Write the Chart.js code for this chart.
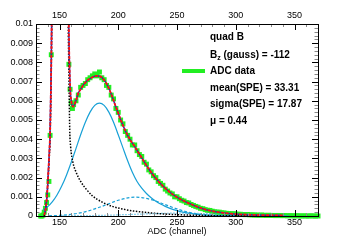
<!DOCTYPE html>
<html>
<head>
<meta charset="utf-8">
<script src="https://cdn.jsdelivr.net/npm/chart.js@4.4.0/dist/chart.umd.min.js"></script>
<style>
  html, body { margin: 0; padding: 0; background: #fff; }
  canvas { display: block; }
</style>
</head>
<body>
<canvas id="chart" width="354" height="241"></canvas>
<script>
const xMin = 130;
const xMax = 370;
const yMax = 0.01;

// ADC data (green markers)
const dataX = [134,135,136,137,138,139,140,141,142,143,144,146,150,154,157,158,159,160,161,162,
  164,166,168,170,172,174,176,178,180,182,184,186,188,190,192,194,196,198,200,
  202,204,206,208,210,212,214,216,218,220,222,224,226,228,230,232,234,236,238,240,
  242,244,246,248,250,252,254,256,258,260,262,264,266,268,270,272,274,276,278,280,
  282,284,286,288,290,292,294,296,298,300,302,304,306,308,310,312,314,316,318,320,
  322,324,326,328,330,332,334,336,338,340,342,344,346,348,350,352,354,356,358,360,
  362,364,366,368,370];
const dataY = [0,0,0.00005,0.0002,0.0004,0.0007,0.0011,0.0018,0.0042,0.0084,0.016,0.034,0.055,0.036,0.013,0.0079,0.0066,0.0059,0.0056,0.0058,
  0.0060,0.0063,0.0067,0.0068,0.0069,0.0071,0.0072,0.0073,0.0074,0.0073,0.0075,0.0072,0.0071,0.0068,0.0067,0.0063,0.0061,0.0056,0.0054,
  0.0050,0.0048,0.0044,0.0042,0.0040,0.0037,0.0037,0.0034,0.0032,0.0031,0.0028,0.0027,0.0024,0.0023,0.0021,0.0020,0.0018,0.0017,0.0016,0.0014,
  0.0013,0.0012,0.00115,0.0010,0.0010,0.0009,0.00082,0.00078,0.0007,0.00068,0.0006,0.00055,0.0005,0.00046,0.0004,0.00038,0.00033,0.0003,0.00029,0.00025,
  0.00022,0.0002,0.0002,0.00017,0.00016,0.00014,0.00013,0.00011,0.00012,0.0001,0.00009,0.00009,0.00008,0.00007,0.00008,0.00006,0.00006,0.00005,0.00005,0.00004,
  0.00005,0.00004,0.00003,0.00004,0.00003,0.00003,0.00002,0.00003,0.00002,0.00002,0.00002,0.00001,0.00002,0.00001,0.00001,0.00001,0.00001,0,0.00001,0,
  0,0.00001,0,0,0];

// total fit (red)
const fitX = [137,138,139,140,141,142,143,144,146,150,154,156,157,158,159,160,161.5,164,166,168,170,172,174,176,178,180,
  182,184,186,188,190,192,194,196,198,200,202,206,210,214,218,222,226,230,234,238,
  242,246,250,254,258,262,266,270,274,278,282,286,290,296,302,310,320,330,340];
const fitY = [0.00005,0.0003,0.0008,0.0017,0.0029,0.0044,0.008,0.015,0.03,0.05,0.032,0.022,0.015,0.0095,0.0068,0.0060,0.0057,0.0060,0.0064,0.0066,0.0068,0.00695,0.00707,0.00716,0.00723,0.00728,
  0.0073,0.00728,0.00722,0.00708,0.0069,0.00665,0.00635,0.00602,0.00568,0.00535,0.00502,0.00445,0.00398,0.00362,0.00322,0.00283,0.00245,0.00211,0.00182,0.00156,
  0.00134,0.00114,0.00098,0.00084,0.00072,0.00061,0.00051,0.00042,0.00034,0.00028,0.00023,0.00019,0.00016,0.00012,0.00009,0.00007,0.00005,0.00004,0.00003];

// pedestal component (black dotted)
const pedX = [137,138,139,140,141,142,143,144,146,150,154,156,157,158,158.7,159.5,161.4,164,168,172.7,178,187,195,204,213,223,235,250,270,300,340];
const pedY = [0,0.0003,0.0008,0.0016,0.0027,0.0041,0.0075,0.014,0.03,0.05,0.03,0.02,0.012,0.0075,0.0045,0.0036,0.0028,0.0023,0.0018,0.0014,0.00105,0.0007,0.0005,0.00036,0.00026,0.00019,0.00012,0.00007,0.00003,0.00001,0];

// 1 p.e. component (blue solid)
const pe1X = [136,140,144,148,152,156,160,164,168,172,176,180,184,188,192,196,200,204,208,212,216,220,224,228,232,236,240,244,250,256,264,272,280,300];
const pe1Y = [0.0003,0.00049,0.00075,0.00111,0.00157,0.00214,0.0028,0.00351,0.00423,0.00488,0.00541,0.00576,0.00588,0.00576,0.00541,0.00488,0.00423,0.00355,0.00288,0.00228,0.0018,0.00145,0.00117,0.00095,0.00077,0.00062,0.0005,0.0004,0.00028,0.00019,0.00011,0.00006,0.00003,0.00001];

// 2 p.e. component (blue dashed)
const pe2X = [141,150,160,170,180,190,200,210,215,220,230,240,250,260,270,280,290,300,315,330,345];
const pe2Y = [0.000012,0.000033,0.00009,0.00019,0.00037,0.00059,0.00082,0.00096,0.00098,0.00096,0.00082,0.00059,0.00037,0.00019,0.00009,0.000033,0.00001,0.000003,0,0,0];

// 3 p.e. component (blue dotted)
const pe3X = [150,170,190,210,230,250,270,290,310,330,345];
const pe3Y = [0.00001,0.00002,0.00004,0.00008,0.00012,0.00015,0.00013,0.0001,0.00006,0.00003,0.00002];

const infoLines = ['quad B', 'B_z (gauss) = -112', 'ADC data', 'mean(SPE) = 33.31', 'sigma(SPE) = 17.87', '\u03bc = 0.44'];

const green = '#22ee22';
const blue = '#17a0d6';
const font = '"Liberation Sans", Arial, sans-serif';

function pts(xs, ys) {
    return xs.map((x, i) => ({ x: x, y: ys[i] }));
}

function curve(xs, ys, color, width, dash, order) {
    return {
        data: pts(xs, ys),
        borderColor: color,
        borderWidth: width,
        borderDash: dash,
        pointRadius: 0,
        fill: false,
        cubicInterpolationMode: 'monotone',
        order: order
    };
}

const framePlugin = {
    id: 'frame',
    afterDatasetsDraw(chart) {
        const ctx = chart.ctx;
        const a = chart.chartArea;
        const xs = chart.scales.x;
        const ys = chart.scales.y;
        ctx.save();
        ctx.lineWidth = 1;

        // x ticks, inside, top and bottom
        for (let v = xMin; v <= xMax; v += 10) {
            const px = Math.round(xs.getPixelForValue(v)) + 0.5;
            const major = v % 50 === 0;
            const len = major ? 6 : 3;
            ctx.strokeStyle = major ? '#000' : '#888';
            ctx.beginPath();
            ctx.moveTo(px, a.top);
            ctx.lineTo(px, a.top + len);
            ctx.moveTo(px, a.bottom);
            ctx.lineTo(px, a.bottom - len);
            ctx.stroke();
        }
        // y ticks, inside, left and right
        for (let i = 0; i <= 50; i++) {
            const py = Math.round(ys.getPixelForValue(i * yMax / 50)) + 0.5;
            const major = i % 5 === 0;
            const len = major ? 6 : 3.5;
            ctx.strokeStyle = major ? '#000' : '#888';
            ctx.beginPath();
            ctx.moveTo(a.left, py);
            ctx.lineTo(a.left + len, py);
            ctx.moveTo(a.right, py);
            ctx.lineTo(a.right - len, py);
            ctx.stroke();
        }
        ctx.strokeStyle = '#000';
        ctx.strokeRect(a.left + 0.5, a.top + 0.5, a.right - a.left, a.bottom - a.top);

        // info block
        const tx = 210;
        const rows = [37, 55, 71, 88, 104, 121];
        ctx.fillStyle = '#000';
        ctx.textBaseline = 'middle';
        ctx.textAlign = 'left';
        ctx.font = 'bold 10px ' + font;
        infoLines.forEach((line, i) => {
            const y = rows[i];
            if (line.indexOf('_') > 0) {
                const parts = line.split('_');
                ctx.fillText(parts[0], tx, y);
                let w = ctx.measureText(parts[0]).width;
                ctx.font = 'bold 7px ' + font;
                ctx.fillText(parts[1].charAt(0), tx + w, y + 3);
                w += ctx.measureText(parts[1].charAt(0)).width;
                ctx.font = 'bold 10px ' + font;
                ctx.fillText(parts[1].slice(1), tx + w, y);
            } else {
                ctx.fillText(line, tx, y);
            }
        });
        ctx.strokeStyle = green;
        ctx.lineWidth = 4;
        ctx.beginPath();
        ctx.moveTo(182, rows[2]);
        ctx.lineTo(205, rows[2]);
        ctx.stroke();
        ctx.restore();
    }
};

const tickFont = { family: font, size: 9 };

new Chart(document.getElementById('chart'), {
    type: 'line',
    data: {
        datasets: [
            curve(fitX, fitY, '#3030a8', 1.5, [], 1),
            curve(fitX, fitY, '#ff1010', 1.8, [3, 1.5], 0),
            curve(pedX, pedY, '#000', 1.5, [1.5, 1.5], 2),
            curve(pe1X, pe1Y, blue, 1.2, [], 3),
            curve(pe2X, pe2Y, blue, 1.2, [3, 2], 4),
            curve(pe3X, pe3Y, blue, 1.2, [1, 2], 5),
            {
                data: pts(dataX, dataY),
                showLine: false,
                pointStyle: 'rect',
                pointRadius: 3.5,
                pointBorderWidth: 0,
                pointBackgroundColor: green,
                borderColor: green,
                clip: { left: 0, top: 0, right: 3, bottom: 3 },
                order: 10
            }
        ]
    },
    options: {
        responsive: false,
        animation: false,
        devicePixelRatio: 1,
        layout: { padding: { left: 0, right: 36, top: 0, bottom: 0 } },
        plugins: { legend: { display: false }, tooltip: { enabled: false } },
        scales: {
            x: {
                type: 'linear',
                position: 'bottom',
                min: xMin,
                max: xMax,
                grid: { display: false, drawTicks: false },
                border: { display: false },
                ticks: { stepSize: 50, includeBounds: false, font: tickFont, color: '#000', padding: 1, maxRotation: 0 },
                title: { display: true, text: 'ADC (channel)', font: tickFont, color: '#000', padding: { top: 0, bottom: 4 } },
                afterFit(scale) { scale.height = 25; }
            },
            x2: {
                type: 'linear',
                position: 'top',
                min: xMin,
                max: xMax,
                grid: { display: false, drawTicks: false },
                border: { display: false },
                ticks: { stepSize: 50, includeBounds: false, font: tickFont, color: '#000', padding: 3, maxRotation: 0 },
                afterFit(scale) { scale.height = 24; }
            },
            y: {
                min: 0,
                max: yMax,
                grid: { display: false, drawTicks: false },
                border: { display: false },
                ticks: {
                    stepSize: 0.001,
                    font: tickFont,
                    color: '#000',
                    padding: 3,
                    callback: v => v === 0 ? '0' : String(+v.toFixed(3))
                },
                afterFit(scale) { scale.width = 36; }
            }
        }
    },
    plugins: [framePlugin]
});
</script>
</body>
</html>
